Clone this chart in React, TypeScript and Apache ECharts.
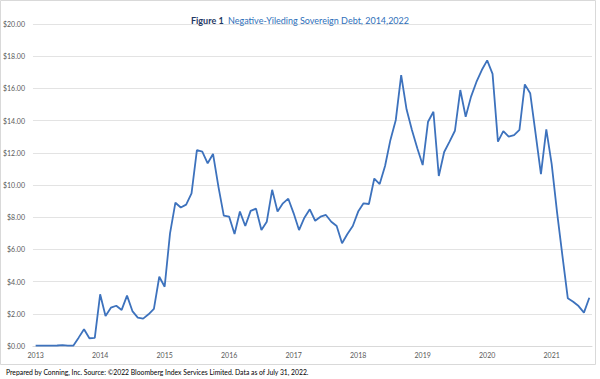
import React, { useEffect, useRef } from "react";
import * as echarts from "echarts";

const years = ["2013", "2014", "2015", "2016", "2017", "2018", "2019", "2020", "2021"];
const monthNames = ["01", "02", "03", "04", "05", "06", "07", "08", "09", "10", "11", "12"];
const months: string[] = [];
years.forEach((y) => monthNames.forEach((m) => months.push(`${y}-${m}`)));
const categories = months.slice(0, 104);

const debtTrillions = [
  0.02, 0.02, 0.02, 0.02, 0.03, 0.05, 0.02, 0.02, 0.52, 1.04, 0.48, 0.5,
  3.21, 1.86, 2.38, 2.5, 2.24, 3.13, 2.17, 1.76, 1.7, 1.97, 2.3, 4.3,
  3.68, 7.0, 8.9, 8.6, 8.78, 9.48, 12.17, 12.07, 11.35, 11.93, 9.9, 8.1,
  8.03, 6.96, 8.35, 7.45, 8.39, 8.53, 7.2, 7.72, 9.7, 8.35, 8.86, 9.15,
  8.24, 7.2, 7.97, 8.49, 7.78, 8.03, 8.14, 7.72, 7.45, 6.38, 6.96, 7.45,
  8.35, 8.86, 8.82, 10.4, 10.06, 11.18, 12.8, 14.04, 16.83, 14.7, 13.42, 12.28,
  11.24, 13.93, 14.55, 10.56, 12.05, 12.69, 13.37, 15.9, 14.24, 15.49, 16.4, 17.14,
  17.74, 16.9, 12.69, 13.35, 13.0, 13.1, 13.42, 16.25, 15.7, 13.21, 10.68, 13.46,
  11.3, 8.3, 5.6, 2.96, 2.75, 2.48, 2.07, 3.0,
];

const titleLead = "Figure 1";
const titleText = "Negative-Yileding Sovereign Debt, 2014,2022";
const footnote =
  "Prepared by Conning, Inc. Source: \u00a92022 Bloomberg Index Services Limited. Data as of July 31, 2022.";

const FONT = "Lato, 'Open Sans', sans-serif";

export default function App() {
  const ref = useRef<HTMLDivElement>(null);
  useEffect(() => {
    if (!ref.current) return;
    const chart = echarts.init(ref.current, undefined, { renderer: "svg" });
    chart.setOption({
      animation: false,
      backgroundColor: "#ffffff",
      textStyle: { fontFamily: FONT },
      title: {
        left: "center",
        top: 6,
        text: `{a|${titleLead}} {b|${titleText}}`,
        textStyle: {
          rich: {
            a: { fontFamily: FONT, fontSize: 9, fontWeight: "bold", color: "#1f3864" },
            b: { fontFamily: FONT, fontSize: 9, fontWeight: "normal", color: "#2e6fba" },
          },
        },
      },
      graphic: [
        {
          type: "rect",
          shape: { x: 0.5, y: 0.5, width: 595, height: 364 },
          style: { fill: "none", stroke: "#d9d9d9", lineWidth: 1 },
          silent: true,
          z: -1,
        },
        {
          type: "text",
          left: 6,
          top: 368,
          style: { text: footnote, fontFamily: FONT, fontSize: 6.8, fill: "#000000" },
        },
      ],
      grid: { left: 29, right: 8, top: 24, bottom: 33 },
      xAxis: {
        type: "category",
        data: categories,
        boundaryGap: true,
        axisLine: { lineStyle: { color: "#d9d9d9", width: 1 } },
        axisTick: { interval: 11, length: 4, lineStyle: { color: "#d9d9d9" } },
        axisLabel: {
          interval: 11,
          margin: 5,
          fontSize: 7,
          color: "#595959",
          fontFamily: FONT,
          formatter: (v: string) => v.slice(0, 4),
        },
        splitLine: { show: false },
      },
      yAxis: {
        type: "value",
        min: 0,
        max: 20,
        interval: 2,
        axisLine: { show: false },
        axisTick: { show: false },
        axisLabel: {
          fontSize: 7,
          color: "#595959",
          margin: 8,
          fontFamily: FONT,
          formatter: (v: number) => "$" + v.toFixed(2),
        },
        splitLine: { lineStyle: { color: "#e3e3e3", width: 1 } },
      },
      series: [
        {
          type: "line",
          data: debtTrillions,
          symbol: "none",
          lineStyle: { color: "#3d72bd", width: 1.8 },
        },
      ],
    });
    return () => chart.dispose();
  }, []);
  return (
    <div
      ref={ref}
      style={{ position: "fixed", left: 0, top: 0, width: 600, height: 379 }}
    />
  );
}
